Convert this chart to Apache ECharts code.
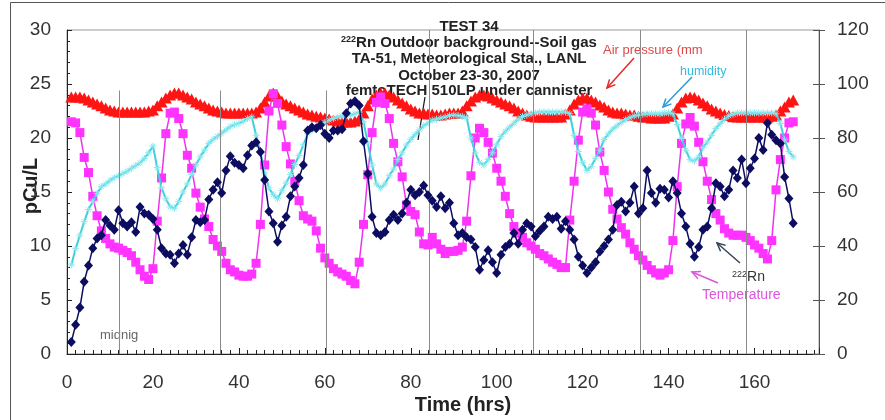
<!DOCTYPE html>
<html><head><meta charset="utf-8">
<script src="https://cdn.jsdelivr.net/npm/echarts@6/dist/echarts.min.js"></script>
<style>html,body{margin:0;padding:0;background:#fff}#c{width:885px;height:420px}</style>
</head><body><div id="c"></div>
<script>
// ---------- data (hourly readings, first reading at hour 1) ----------
const startHour = 1;
const radon = [
  1.1, 2.7, 4.3, 6.7, 8.2, 9.8, 10.7, 11.0, 12.4, 11.9,
  11.5, 13.3, 12.1, 11.8, 12.2, 11.3, 13.6, 13.0, 12.9, 12.5,
  11.5, 9.8, 9.3, 9.2, 8.4, 9.3, 10.1, 9.2, 10.8, 12.4,
  12.2, 12.4, 14.3, 15.2, 15.9, 14.9, 17.0, 18.3, 17.7, 17.5,
  17.2, 18.4, 19.3, 19.6, 18.7, 16.1, 13.2, 12.1, 10.4, 11.9,
  12.7, 14.6, 15.5, 16.3, 17.5, 20.7, 21.0, 20.9, 21.2, 20.4,
  20.0, 20.7, 20.7, 20.8, 22.3, 23.2, 23.4, 23.0, 19.7, 16.7,
  12.7, 11.2, 11.0, 11.3, 12.4, 12.9, 12.4, 13.0, 14.0, 15.2,
  14.7, 15.0, 15.6, 14.7, 14.2, 13.6, 14.6, 13.5, 14.0, 12.1,
  11.0, 11.2, 10.8, 10.6, 9.9, 7.8, 8.7, 9.6, 8.5, 7.5,
  9.2, 9.9, 10.2, 11.2, 10.2, 11.5, 12.1, 11.8, 10.9, 11.4,
  11.8, 12.7, 12.5, 12.7, 11.6, 12.3, 11.5, 10.6, 9.0, 8.2,
  7.5, 8.0, 8.5, 9.5, 10.0, 10.6, 11.5, 13.8, 14.1, 13.2,
  14.0, 15.5, 13.0, 13.5, 17.0, 14.9, 14.0, 15.3, 15.2, 14.5,
  16.0, 14.9, 13.0, 11.8, 10.2, 9.0, 9.9, 11.5, 11.8, 13.5,
  15.8, 15.5, 14.6, 15.2, 17.0, 16.3, 18.0, 15.8, 17.2, 18.1,
  20.0, 18.9, 21.4, 20.3, 19.8, 19.5, 16.4, 14.4, 12.1
];
const temperature = [
  21.5, 21.4, 20.5, 18.2, 16.8, 14.6, 12.8, 11.4, 10.7, 10.2,
  9.9, 9.8, 9.6, 9.4, 9.1, 8.5, 7.8, 7.2, 6.9, 7.9,
  12.3, 16.3, 20.4, 22.3, 22.4, 21.8, 20.4, 18.4, 17.2, 14.9,
  13.6, 12.5, 11.8, 10.6, 10.0, 9.5, 8.4, 7.8, 7.6, 7.3,
  7.2, 7.2, 7.4, 8.4, 12.0, 17.5, 22.5, 24.1, 23.2, 21.2,
  19.2, 17.6, 16.0, 14.2, 12.8, 12.5, 12.3, 11.4, 9.8, 8.9,
  8.4, 7.9, 7.6, 7.4, 7.2, 6.8, 6.5, 8.5, 12.0, 16.6,
  20.5, 23.3, 23.8, 23.2, 21.8, 19.5, 17.8, 16.4, 13.8, 13.2,
  12.9, 11.3, 10.2, 10.1, 10.8, 10.2, 9.7, 9.3, 9.5, 9.5,
  9.6, 9.9, 12.3, 16.5, 20.0, 20.9, 20.5, 19.6, 18.6, 17.2,
  16.0, 14.6, 13.0, 11.8, 11.2, 10.8, 10.3, 10.0, 9.7, 9.3,
  9.1, 8.8, 8.5, 8.3, 8.0, 8.0, 12.4, 16.0, 19.8, 22.4,
  22.7, 22.3, 21.2, 18.7, 17.0, 15.0, 13.4, 12.5, 11.7, 11.1,
  10.3, 9.7, 9.1, 8.7, 8.2, 7.8, 7.5, 7.3, 7.5, 7.8,
  10.5, 15.5, 19.5, 21.3, 21.9, 21.1, 19.6, 17.8, 16.0, 14.3,
  13.0, 12.4, 11.6, 11.2, 11.0, 11.0, 11.0, 10.8, 10.5, 10.1,
  9.8, 9.3, 8.8, 10.5, 15.2, 18.0, 20.0, 21.4, 21.5
];
const humidity = [
  33, 39, 44, 49, 53.5, 56.5, 59.5, 62, 63, 64.3,
  65.3, 66, 66.8, 67.7, 68.8, 69.8, 70.8, 72.4, 74.5, 77,
  69, 61.5, 57.5, 54.5, 54, 56.5, 60, 63, 66.5, 70,
  73, 75.5, 78, 79.5, 80.6, 81.8, 83, 84.2, 85, 85.4,
  86.2, 87.2, 87.8, 81, 75, 67, 61.5, 59, 57.5, 60.5,
  63.3, 66.5, 70.2, 73.5, 77.5, 81.5, 83, 83.6, 84.8, 85.8,
  86.6, 87.2, 87.8, 88.2, 88.5, 88.5, 89, 89.6, 86, 78,
  70, 63, 61.5, 63, 66, 68.5, 72, 74.5, 77.4, 79.5,
  81.3, 83, 84.5, 85.5, 86.6, 87, 87.4, 87.8, 88.3, 88.5,
  88.3, 88, 87.5, 80, 74.5, 71, 70, 72, 74.5, 77.5,
  80.5, 82.5, 84, 85.5, 87, 88, 88.5, 89, 89.3, 89.6,
  89.6, 89.6, 89.6, 89.6, 89.6, 89.6, 89, 81, 75, 71,
  68, 69.5, 72.5, 75.5, 79.5, 81.5, 83.3, 84.5, 85.8, 86.8,
  87.5, 88.2, 88.5, 88.8, 89, 89, 89, 89, 89.3, 89.3,
  89, 85, 80, 75.5, 72, 71.5, 73, 76.5, 78.5, 81,
  83.5, 85.4, 87, 88.2, 88.8, 89.3, 89.3, 89.3, 89.3, 89.3,
  89.3, 89.3, 89.3, 89.3, 89, 85.4, 79.3, 75, 73
];
const airPressure = [
  95.2, 95.2, 95.2, 94.8, 94.1, 93.3, 92.6, 91.9, 91.1, 90.4,
  90.0, 89.6, 89.6, 89.6, 89.6, 89.6, 89.6, 89.6, 90.0, 90.4,
  91.9, 93.3, 94.8, 95.9, 96.7, 96.7, 95.9, 95.2, 94.4, 93.3,
  92.6, 91.9, 91.1, 90.4, 90.0, 89.6, 89.3, 89.3, 89.3, 89.3,
  89.3, 89.3, 89.3, 89.6, 91.1, 93.3, 95.6, 96.7, 95.6, 93.7,
  92.6, 91.9, 91.1, 90.4, 89.6, 88.9, 88.5, 88.1, 87.8, 87.4,
  87.0, 86.7, 86.3, 85.9, 85.9, 85.9, 86.3, 87.0, 89.3, 91.9,
  94.4, 95.9, 96.7, 96.7, 95.9, 95.2, 94.1, 93.0, 91.9, 90.7,
  90.0, 89.3, 89.3, 88.9, 88.9, 88.5, 88.5, 88.9, 89.3, 89.3,
  89.3, 90.0, 91.9, 93.7, 95.2, 95.9, 95.9, 95.6, 94.8, 94.1,
  93.3, 92.6, 91.9, 91.1, 90.0, 89.3, 88.5, 88.1, 87.8, 87.8,
  87.8, 87.8, 87.8, 87.8, 87.8, 88.9, 90.4, 92.6, 94.1, 94.8,
  94.8, 94.1, 93.3, 92.2, 91.5, 90.4, 89.6, 89.3, 89.3, 88.9,
  88.5, 88.5, 88.1, 87.8, 87.8, 87.4, 87.4, 87.4, 87.4, 88.1,
  88.9, 91.1, 93.3, 94.8, 95.2, 95.0, 94.1, 93.0, 91.9, 90.7,
  90.0, 89.3, 88.7, 88.3, 87.9, 87.8, 87.8, 87.8, 87.8, 87.8,
  87.8, 87.8, 87.8, 88.1, 88.5, 90.0, 91.5, 93.3, 94.1
];
const midnightHours = [12.1, 35.7, 60.4, 84.4, 108.6, 133.3, 158.0];
const midnightTops = [24.4, 24.4, 24.4, 30, 30, 30, 30];
const xRange = {min: 0, max: 175, interval: 20};
const leftRange = {min: 0, max: 30, interval: 5};
const rightRange = {min: 0, max: 120, interval: 20};
const titleLines = [
  '{b|TEST 34}',
  '{s|222}{b|Rn Outdoor background--Soil gas}',
  '{b|TA-51, Meteorological Sta., LANL}',
  '{b|October 23-30, 2007}',
  '{b|femtoTECH 510LP under cannister}'
];

// ---------- chart ----------
const FONT = "'Liberation Sans', Arial, Helvetica, sans-serif";
const pairs = arr => arr.map((v, i) => [startHour + i, v]);
const chart = echarts.init(document.getElementById('c'), null, {renderer: 'canvas'});

function arrow(x1, y1, x2, y2, color) {
  const ang = Math.atan2(y2 - y1, x2 - x1);
  const L = 9, a = 0.45;
  const p1 = [x2 - L * Math.cos(ang - a), y2 - L * Math.sin(ang - a)];
  const p2 = [x2 - L * Math.cos(ang + a), y2 - L * Math.sin(ang + a)];
  return {
    type: 'group', silent: true, children: [
      {type: 'line', shape: {x1, y1, x2, y2}, style: {stroke: color, lineWidth: 1.5}},
      {type: 'polyline', shape: {points: [p1, [x2, y2], p2]}, style: {stroke: color, lineWidth: 1.5, fill: null}}
    ]
  };
}
function txt(x, y, text, font, color, align) {
  return {
    type: 'text', x, y, silent: true,
    style: {text, font, fill: color, align: align || 'left', verticalAlign: 'middle',
      textAlign: align || 'left', textVerticalAlign: 'middle'}
  };
}

const titleRich = {
  b: {font: 'bold 15px ' + FONT, fill: '#222', color: '#222'},
  s: {font: 'bold 9px ' + FONT, fill: '#222', color: '#222', verticalAlign: 'top'}
};

const graphics = [
  {type: 'rect', silent: true, shape: {x: 10.5, y: 2.5, width: 900, height: 500}, style: {fill: null, stroke: '#555', lineWidth: 1}},
  {type: 'line', silent: true, shape: {x1: 425, y1: 97, x2: 418, y2: 140}, style: {stroke: '#111', lineWidth: 1.2}},
  txt(603, 50, 'Air pressure (mm', '13px ' + FONT, '#e04848'),
  arrow(634, 58, 607, 88, '#e02a2a'),
  txt(680, 72, 'humidity', '12.5px ' + FONT, '#33bbdd'),
  arrow(692, 77, 663, 107, '#2b9ad8'),
  {type: 'text', x: 732, y: 277, silent: true, style: {text: '{s|222}{n|Rn}', align: 'left', verticalAlign: 'middle',
    rich: {s: {font: '9px ' + FONT, fill: '#333', verticalAlign: 'top'}, n: {font: '14px ' + FONT, fill: '#333'}}}},
  arrow(740, 263, 717, 243, '#334455'),
  txt(702, 295, 'Temperature', '14px ' + FONT, '#dd55dd'),
  arrow(718, 283, 692, 272, '#dd55dd'),
  txt(100, 335, 'midnig', '13px ' + FONT, '#666'),
  txt(463, 405, 'Time (hrs)', 'bold 20px ' + FONT, '#222', 'center'),
  {type: 'text', x: 31, y: 186, rotation: Math.PI / 2, silent: true,
    style: {text: 'pCu/L', font: 'bold 20px ' + FONT, fill: '#222', align: 'center', verticalAlign: 'middle'}}
];
const titleYs = [27, 43, 59, 76, 91];
titleLines.forEach((t, i) => {
  graphics.push({type: 'text', x: 469, y: titleYs[i], silent: true,
    style: {text: t, rich: titleRich, align: 'center', verticalAlign: 'middle'}});
});

const axisLabelStyle = {fontSize: 19, color: '#333', fontFamily: FONT};
const option = {
  animation: false,
  backgroundColor: '#fff',
  grid: {left: 67, right: 66, top: 30, bottom: 66, show: true, borderColor: '#999', borderWidth: 1},
  xAxis: {
    type: 'value', min: xRange.min, max: xRange.max, interval: xRange.interval,
    axisLine: {lineStyle: {color: '#222', width: 1}},
    axisTick: {inside: true, length: 6, lineStyle: {color: '#222'}},
    minorTick: {show: true, splitNumber: 10, length: 4, lineStyle: {color: '#222'}},
    axisLabel: Object.assign({margin: 19, showMaxLabel: false}, axisLabelStyle),
    splitLine: {show: false}
  },
  yAxis: [
    {
      type: 'value', position: 'left', min: leftRange.min, max: leftRange.max, interval: leftRange.interval,
      axisLine: {show: true, lineStyle: {color: '#222'}},
      axisTick: {show: true, inside: true, length: 5, lineStyle: {color: '#222'}},
      minorTick: {show: true, splitNumber: 5, length: 3, lineStyle: {color: '#222'}},
      axisLabel: Object.assign({margin: 16}, axisLabelStyle),
      splitLine: {show: false}
    },
    {
      type: 'value', position: 'right', min: rightRange.min, max: rightRange.max, interval: rightRange.interval,
      axisLine: {show: true, lineStyle: {color: '#555'}},
      axisTick: {show: true, inside: false, length: 6, lineStyle: {color: '#555'}},
      axisLabel: Object.assign({margin: 18}, axisLabelStyle),
      splitLine: {show: false}
    },
    {
      type: 'value', position: 'right', min: rightRange.min, max: rightRange.max, interval: rightRange.interval,
      axisLine: {show: false},
      axisTick: {show: true, inside: true, length: 6, lineStyle: {color: '#555'}},
      axisLabel: {show: false},
      splitLine: {show: false}
    }
  ],
  series: [
    {
      name: 'midnight', type: 'line', yAxisIndex: 0, data: [], z: 1,
      markLine: {
        silent: true, symbol: ['none', 'none'], label: {show: false}, animation: false,
        lineStyle: {color: '#8a8a8a', width: 1, type: 'solid'},
        data: midnightHours.map((h, i) => [{coord: [h, 0]}, {coord: [h, midnightTops[i]]}])
      }
    },
    {
      name: 'Air pressure', type: 'line', yAxisIndex: 1, data: pairs(airPressure), z: 2,
      symbol: 'triangle', symbolSize: [12, 11], showAllSymbol: true,
      itemStyle: {color: '#ff1414'}, lineStyle: {color: '#ff1414', width: 1.5}
    },
    {
      name: 'Temperature', type: 'line', yAxisIndex: 0, data: pairs(temperature), z: 3,
      symbol: 'rect', symbolSize: 9, showAllSymbol: true,
      itemStyle: {color: '#ff33ff'}, lineStyle: {color: '#ee33ee', width: 1.5}
    },
    {
      name: 'humidity', type: 'line', yAxisIndex: 1, data: pairs(humidity), z: 4,
      symbol: 'path://M0,5L10,5M5,0L5,10M1.5,1.5L8.5,8.5M8.5,1.5L1.5,8.5', symbolSize: 7, showAllSymbol: true,
      itemStyle: {color: 'rgba(0,0,0,0)', borderColor: '#88e8ee', borderWidth: 1},
      lineStyle: {color: '#3fd0dc', width: 2}
    },
    {
      name: '222Rn', type: 'line', yAxisIndex: 0, data: pairs(radon), z: 5,
      symbol: 'diamond', symbolSize: [9, 10], showAllSymbol: true,
      itemStyle: {color: '#0c0c60'}, lineStyle: {color: '#0c0c60', width: 1.5}
    }
  ],
  graphic: graphics
};
chart.setOption(option);
</script></body></html>
